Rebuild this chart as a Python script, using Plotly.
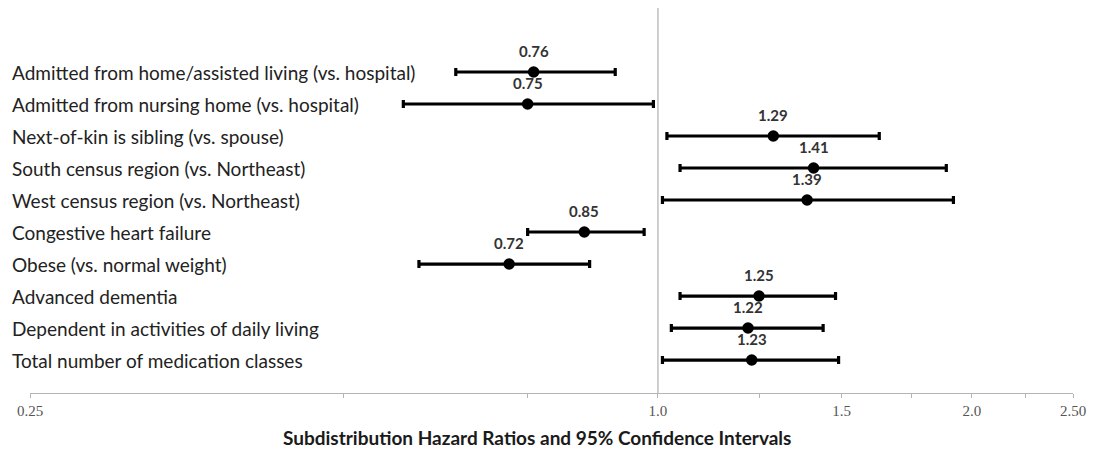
import math
import plotly.graph_objects as go

labels = [
    "Admitted from home/assisted living (vs. hospital)",
    "Admitted from nursing home (vs. hospital)",
    "Next-of-kin is sibling (vs. spouse)",
    "South census region (vs. Northeast)",
    "West census region (vs. Northeast)",
    "Congestive heart failure",
    "Obese (vs. normal weight)",
    "Advanced dementia",
    "Dependent in activities of daily living",
    "Total number of medication classes",
]
hr = [0.76, 0.75, 1.29, 1.41, 1.39, 0.85, 0.72, 1.25, 1.22, 1.23]
ci_low = [0.64, 0.57, 1.02, 1.05, 1.01, 0.75, 0.59, 1.05, 1.03, 1.01]
ci_high = [0.91, 0.99, 1.63, 1.89, 1.92, 0.97, 0.86, 1.48, 1.44, 1.49]
tick_vals = [0.25, 0.5, 0.75, 1.0, 1.25, 1.5, 1.75, 2.0, 2.25, 2.5]
tick_text = ["0.25", "", "", "1.0", "", "1.5", "", "2.0", "", "2.50"]

rows = list(range(len(labels)))
err_plus = [h - v for h, v in zip(ci_high, hr)]
err_minus = [v - l for v, l in zip(hr, ci_low)]

fig = go.Figure()
fig.add_trace(go.Scatter(
    x=hr, y=rows, mode="markers",
    marker=dict(color="black", size=11.5),
    error_x=dict(type="data", symmetric=False, array=err_plus, arrayminus=err_minus,
                 color="black", thickness=3.2, width=4),
    showlegend=False, hoverinfo="skip",
))

annotations = []
for i, (lab, v) in enumerate(zip(labels, hr)):
    annotations.append(dict(
        x=0, xref="paper", y=i, yref="y", text=lab, showarrow=False,
        xanchor="left", xshift=-20, font=dict(family="Lato", size=19, color="#222"),
    ))
    annotations.append(dict(
        x=math.log10(v), y=i, xref="x", yref="y", text="<b>%.2f</b>" % v, showarrow=False,
        yshift=21, font=dict(family="Lato", size=15, color="#333"),
    ))
annotations.append(dict(
    x=(537 - 30) / (1073 - 30), xref="paper", y=0, yref="paper",
    text="<b>Subdistribution Hazard Ratios and 95% Confidence Intervals</b>",
    showarrow=False, yanchor="middle", yshift=-44, font=dict(family="Lato", size=19, color="#1a1a1a"),
))

fig.add_shape(type="line", x0=1.0, x1=1.0, xref="x", y0=0, y1=1, yref="paper",
              line=dict(color="#b0b0b0", width=1.2))

fig.update_layout(
    width=1100, height=450,
    margin=dict(l=22, r=35, t=0, b=65),
    plot_bgcolor="white", paper_bgcolor="white",
    annotations=annotations,
    xaxis=dict(type="log", range=[math.log10(0.25), math.log10(2.5)], tickvals=tick_vals, ticktext=tick_text,
               showgrid=False, zeroline=False, showline=True, linecolor="#b5b5b5", linewidth=1.2,
               ticks="outside", ticklen=4, tickcolor="#b5b5b5", automargin=False,
               tickfont=dict(family="Liberation Serif", size=15, color="#555")),
    yaxis=dict(range=[10.03, -2], showgrid=False, zeroline=False, showticklabels=False,
               showline=False, ticks="", automargin=False),
)

fig.write_html("out.html")
